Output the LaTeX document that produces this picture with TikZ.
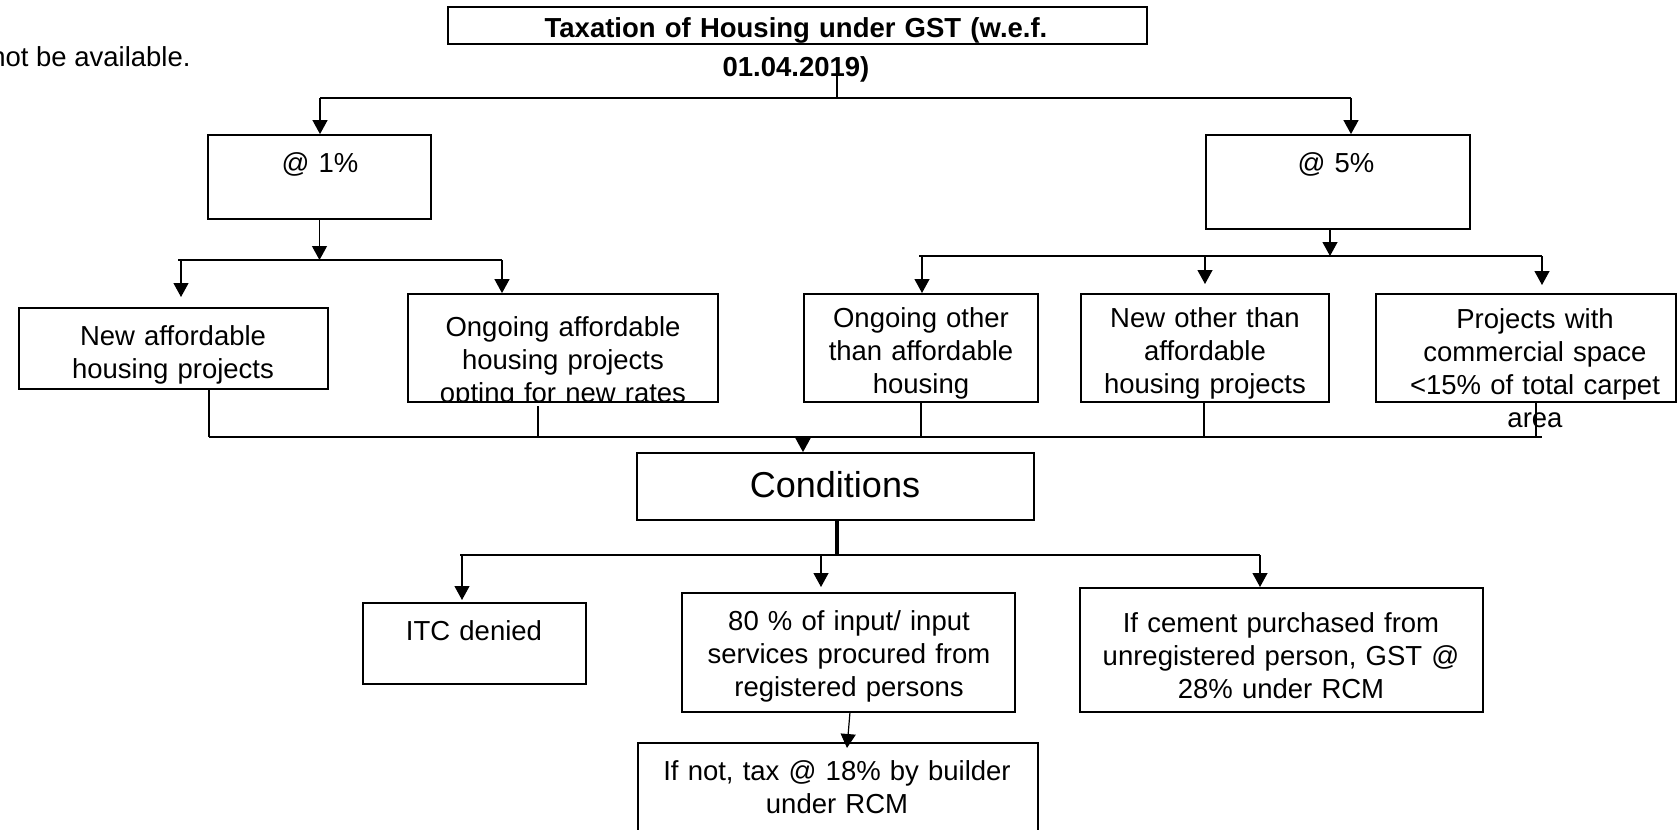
\documentclass[tikz,border=0pt]{standalone}
\usepackage{fontspec}
\setmainfont{Liberation Sans}
\usetikzlibrary{arrows.meta,fit}
\begin{document}
\begin{tikzpicture}[x=0.5pt,y=-0.5pt,
  box/.style={draw, line width=0.9pt, inner sep=0pt},
  conn/.style={line width=0.6pt},
  thickconn/.style={line width=1.8pt},
  arr/.style={line width=0.6pt, -{Triangle[length=7pt,width=7.5pt]}},
  txt/.style={font=\fontsize{13.75}{16.5}\selectfont, inner sep=0pt, align=center, text width=200pt, anchor=base},
]
\useasboundingbox (0,0) rectangle (1678,830);

% ---------- top-left fragment ----------
\node (note) [font=\fontsize{13.75}{16.5}\selectfont, inner sep=0pt, anchor=base east] at (191,66) {not be available.};

% ---------- title ----------
\node (title) [box, line width=1pt, fit={(448,7) (1147,44)}] {};
\node (titletext) [txt, font=\bfseries\fontsize{13.75}{20}\selectfont, text width=300pt] at (796,37) {Taxation of Housing under GST (w.e.f.\\01.04.2019)};

% ---------- rate boxes ----------
\node (p1) [box, fit={(208,135) (431,219)}] {};
\node (p1t) [txt] at (320,172) {@ 1\%};
\node (p5) [box, fit={(1206,135) (1470,229)}] {};
\node (p5t) [txt] at (1336,172) {@ 5\%};

% ---------- project boxes ----------
\node (na) [box, fit={(19,308) (328,389)}] {};
\node (nat) [txt] at (173,345) {New affordable\\housing projects};

\begin{scope}
\clip (408,294) rectangle (718,402);
\node (oat) [txt] at (563,336) {Ongoing affordable\\housing projects\\opting for new rates};
\end{scope}
\node (oa) [box, fit={(408,294) (718,402)}] {};

\node (oo) [box, fit={(804,294) (1038,402)}] {};
\node (oot) [txt] at (921,327) {Ongoing other\\than affordable\\housing};

\node (no) [box, fit={(1081,294) (1329,402)}] {};
\node (not) [txt] at (1205,327) {New other than\\affordable\\housing projects};

\node (pc) [box, fit={(1376,294) (1676,402)}] {};
\node (pct) [txt] at (1535,328) {Projects with\\commercial space\\<15\% of total carpet\\area};

% ---------- conditions ----------
\node (cond) [box, fit={(637,453) (1034,520)}] {};
\node (condt) [font=\fontsize{18}{22}\selectfont, inner sep=0pt, anchor=base] at (835,497) {Conditions};

\node (itc) [box, fit={(363,603) (586,684)}] {};
\node (itct) [txt] at (474,640) {ITC denied};

\node (eighty) [box, fit={(682,593) (1015,712)}] {};
\node (eightyt) [txt] at (849,630) {80 \% of input/ input\\services procured from\\registered persons};

\node (ifnot) [box, fit={(638,743) (1038,840)}] {};
\node (ifnott) [txt] at (837,780) {If not, tax @ 18\% by builder\\under RCM};

\node (cement) [box, fit={(1080,588) (1483,712)}] {};
\node (cementt) [txt] at (1281,632) {If cement purchased from\\unregistered person, GST @\\28\% under RCM};

% ---------- coordinates ----------
\coordinate (tsplit) at (837,63);
\coordinate (tj) at (837,98);
\coordinate (jl) at (320,98);
\coordinate (jr) at (1351,98);

\coordinate (b1l) at (178,260);
\coordinate (b1r) at (502,260);
\coordinate (b1a) at (181,260);
\coordinate (tipna) at (181,297);

\coordinate (b5m) at (1330,256);
\coordinate (b5l) at (919,256);
\coordinate (b5r) at (1542,256);
\coordinate (b5a) at (922,256);
\coordinate (b5b) at (1205,256);
\coordinate (tipoo) at (922,293);
\coordinate (tipno) at (1205,284);
\coordinate (tippc) at (1542,285);

\coordinate (cna) at (209,437);
\coordinate (coa) at (538,437);
\coordinate (coas) at (538,406);
\coordinate (coo) at (921,437);
\coordinate (cno) at (1204,437);
\coordinate (cpc) at (1536,437);
\coordinate (cend) at (1542,437);
\coordinate (ccond) at (803,437);

\coordinate (ctop) at (837,520);
\coordinate (cj) at (837,555);
\coordinate (cl) at (460,555);
\coordinate (cr) at (1260,555);
\coordinate (ca1) at (462,555);
\coordinate (tipitc) at (462,600);
\coordinate (ca2) at (821,555);
\coordinate (tip80) at (821,587);
\coordinate (tipcem) at (1260,587);
\coordinate (e80) at (850,712);
\coordinate (tipifn) at (847,748);

% ---------- connectors ----------
\draw[conn] (tsplit) -- (tj);
\draw[conn] (jl) -- (jr);
\draw[arr] (jl) -- (jl |- p1.north);
\draw[arr] (jr) -- (jr |- p5.north);

\draw[arr] (p1.south) -- (p1.south |- b1l);
\draw[conn] (b1l) -- (b1r);
\draw[arr] (b1a) -- (tipna);
\draw[arr] (b1r) -- (b1r |- oa.north);

\draw[arr] (b5m |- p5.south) -- (b5m);
\draw[conn] (b5l) -- (b5r);
\draw[arr] (b5a) -- (tipoo);
\draw[arr] (b5b) -- (tipno);
\draw[arr] (b5r) -- (tippc);

\draw[conn] (cna |- na.south) -- (cna);
\draw[conn] (coas) -- (coa);
\draw[conn] (coo |- oo.south) -- (coo);
\draw[conn] (cno |- no.south) -- (cno);
\draw[conn] (cpc |- pc.south) -- (cpc);
\draw[conn] (cna) -- (cend);
\draw[arr] (ccond) -- (ccond |- cond.north);

\draw[thickconn] (ctop) -- (cj);
\draw[conn] (cl) -- (cr);
\draw[arr] (ca1) -- (tipitc);
\draw[arr] (ca2) -- (tip80);
\draw[arr] (cr) -- (tipcem);
\draw[arr] (e80) -- (tipifn);
\end{tikzpicture}
\end{document}
